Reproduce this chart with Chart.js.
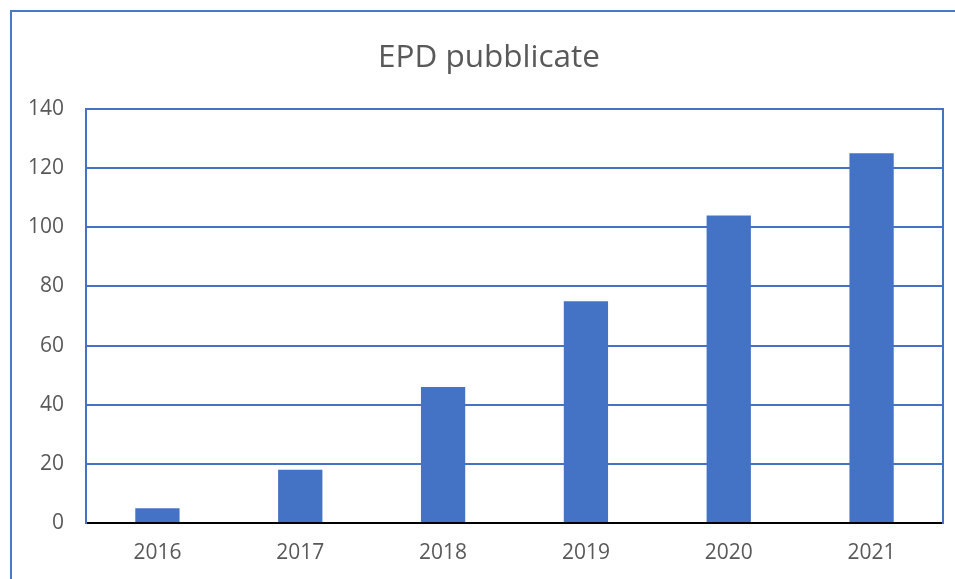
<!DOCTYPE html>
<html>
<head>
<meta charset="utf-8">
<script src="https://cdn.jsdelivr.net/npm/chart.js@4"></script>
<style>
  html, body { margin: 0; padding: 0; background: #fff; overflow: hidden; }
  #frame {
    position: absolute; left: 10px; top: 10px; width: 2000px; height: 2000px;
    border-left: 2px solid #4a78c8; border-top: 2px solid #4a78c8;
  }
  #epdChart { position: absolute; left: 0; top: 0; }
</style>
</head>
<body>
<div id="frame"></div>
<canvas id="epdChart" width="955" height="579"></canvas>
<script>
// chart data
const years = ["2016", "2017", "2018", "2019", "2020", "2021"];
const epdCounts = [5, 18, 46, 75, 104, 125];
const yTicks = [0, 20, 40, 60, 80, 100, 120, 140];

const chartTitle = "EPD pubblicate";
const blue = "#4472C4";
const textGray = "#595959";

// Title drawn by hand so it sits where the original one is
const titlePlugin = {
    id: "fixedTitle",
    afterDraw(chart) {
        const ctx = chart.ctx;
        ctx.save();
        ctx.font = "31.5px 'Open Sans'";
        ctx.fillStyle = textGray;
        ctx.textAlign = "center";
        ctx.textBaseline = "alphabetic";
        ctx.fillText(chartTitle, 489, 67);
        ctx.restore();
    }
};

const ctx = document.getElementById("epdChart").getContext("2d");

new Chart(ctx, {
    type: "bar",
    data: {
        labels: years,
        datasets: [{
            label: chartTitle,
            data: epdCounts,
            backgroundColor: blue,
            borderWidth: 0,
            barPercentage: 0.31,
            categoryPercentage: 1.0
        }]
    },
    options: {
        responsive: false,
        animation: false,
        layout: {
            padding: { top: 109, right: 12, bottom: 0, left: 0 }
        },
        plugins: {
            legend: { display: false },
            title: { display: false },
            tooltip: { enabled: false }
        },
        scales: {
            x: {
                grid: { display: false, drawTicks: false },
                border: { display: true, color: "#000000", width: 2 },
                ticks: {
                    color: textGray,
                    font: { family: "'Open Sans'", size: 21 },
                    padding: 17,
                    maxRotation: 0
                },
                afterFit: scale => { scale.height = 56; }
            },
            y: {
                min: 0,
                max: 140,
                afterBuildTicks: scale => {
                    scale.ticks = yTicks.map(v => ({ value: v }));
                },
                grid: {
                    drawTicks: false,
                    lineWidth: 2,
                    color: c => (c.tick && c.tick.value === 0) ? "rgba(0,0,0,0)" : blue
                },
                border: { display: true, color: blue, width: 2 },
                ticks: {
                    color: textGray,
                    font: { family: "'Open Sans'", size: 21 },
                    padding: 22
                },
                afterFit: scale => { scale.width = 86; }
            },
            yRight: {
                position: "right",
                min: 0,
                max: 140,
                grid: { drawOnChartArea: false, drawTicks: false },
                border: { display: true, color: blue, width: 2 },
                ticks: { display: false },
                afterFit: scale => { scale.width = 0; }
            }
        }
    },
    plugins: [titlePlugin]
});
</script>
</body>
</html>
